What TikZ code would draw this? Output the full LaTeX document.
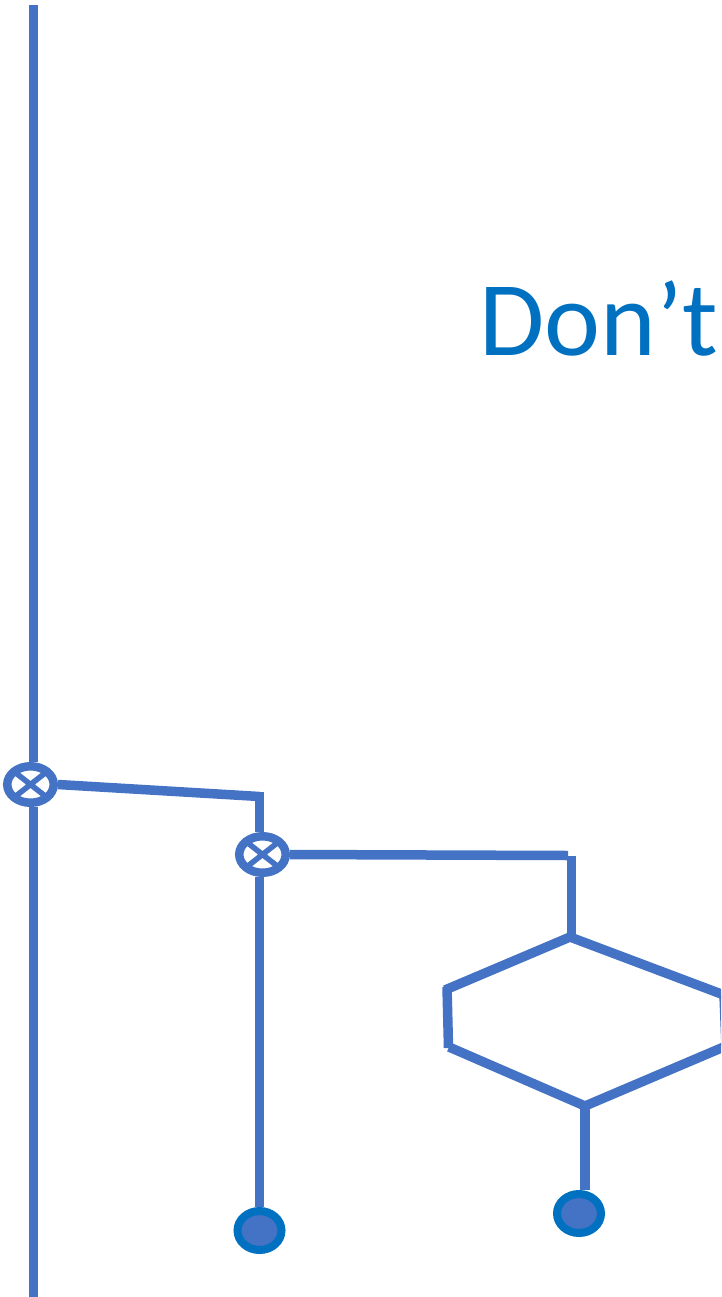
\documentclass[tikz,border=0pt]{standalone}
\usepackage{fontspec}
\setmainfont{Carlito}
\usetikzlibrary{calc, shapes.geometric}

\definecolor{wireblue}{HTML}{4472C4}
\definecolor{darkblue}{HTML}{0070C0}

\begin{document}
\begin{tikzpicture}[
    x=1pt, y=-1pt,
    wire/.style={draw=wireblue, line width=9.5pt},
    xorgate/.style={ellipse, draw=wireblue, line width=8.5pt, fill=white,
                    minimum width=46.5pt, minimum height=36.5pt, inner sep=0pt,
                    path picture={
                        \draw[wireblue, line width=5.5pt]
                            (path picture bounding box.north west) -- (path picture bounding box.south east)
                            (path picture bounding box.south west) -- (path picture bounding box.north east);
                    }},
    terminal/.style={ellipse, draw=darkblue, line width=8pt, fill=wireblue,
                     minimum width=44pt, minimum height=39pt, inner sep=0pt},
    heading/.style={font=\fontsize{106}{106}\selectfont, text=darkblue, inner sep=0pt},
]
\useasboundingbox (0, 0) rectangle (721, 1297);
\clip (0, 0) rectangle (721, 1297);

% ===================== TEXT =====================
\node[heading, anchor=base west] (title) at (479.5, 355) {Don’t};

% ===================== GATES AND TERMINALS =====================
\node[xorgate] (xorA) at (30.5, 784.5) {};
\node[xorgate] (xorB) at (262.5, 854.5) {};
\node[terminal] (dotA) at (259.5, 1230.5) {};
\node[terminal] (dotB) at (579, 1213.5) {};

% ===================== CORNERS =====================
\coordinate (railTop) at (33.5, 5);
\coordinate (railBot) at (33.5, 1300);
\coordinate (kneeA) at (259.5, 792);
\coordinate (kneeAleft) at (259.5, 796.5);
\coordinate (kneeB) at (568, 855.5);
\coordinate (dropB) at (571.5, 856);
\coordinate (hexTop) at (570, 937);
\coordinate (hexLeftUp) at (445, 990);
\coordinate (hexLeftUpEnd) at (447, 987);
\coordinate (hexLeftLow) at (448.5, 1048);
\coordinate (hexLowStart) at (449, 1047);
\coordinate (hexBot) at (585, 1106);
\coordinate (hexRightLow) at (726, 1046);
\coordinate (hexRightUp) at (724, 995);

% ===================== WIRES =====================
\draw[wire] (railTop) -- (railTop |- xorA.north);
\draw[wire] (railBot |- xorA.south) -- (railBot);

\draw[wire] (xorA.east) -- (kneeAleft);
\draw[wire] (kneeA) -- (kneeA |- xorB.north);
\draw[wire] (xorB.south -| kneeA) -- (kneeA |- dotA.north);

\draw[wire] (xorB.east) -- (kneeB);
\draw[wire] (dropB) -- ($(hexTop)+(1.5, 0)$);

% hexagon, drawn in pieces
\draw[wire] (hexLeftUp) -- (hexTop) -- (hexRightUp);
\draw[wire] (hexLeftUpEnd) -- (hexLeftLow);
\draw[wire] (hexLowStart) -- (hexBot) -- (hexRightLow);
\draw[wire] (hexRightUp) -- (hexRightLow);
\draw[wire] (hexBot) -- (hexBot |- dotB.north);

\end{tikzpicture}
\end{document}
